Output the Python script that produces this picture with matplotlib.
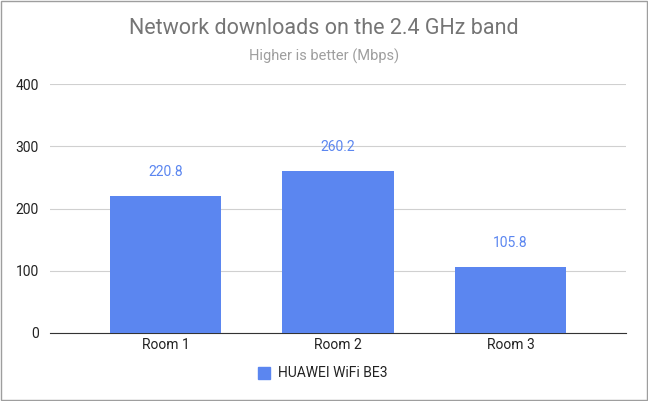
import matplotlib
matplotlib.use("Agg")
import matplotlib.pyplot as plt
from matplotlib.patches import Rectangle

plt.rcParams['font.family'] = ['Roboto', 'DejaVu Sans']

categories = ["Room 1", "Room 2", "Room 3"]
values = [220.8, 260.2, 105.8]
series_name = "HUAWEI WiFi BE3"
yticks = [0, 100, 200, 300, 400]

fig = plt.figure(figsize=(6.48, 4.01), dpi=100)
fig.patches.append(Rectangle((0.002, 0.002), 0.996, 0.996, transform=fig.transFigure,
                             fill=False, edgecolor="#9e9e9e", linewidth=1))
ax = fig.add_axes([50/648, 1-333/401, 576/648, 249/401])
x = list(range(len(categories)))
ax.bar(x, values, width=0.645, color="#5b86f0", zorder=3)
for xi, v in zip(x, values):
    ax.text(xi, v + 27, f"{v:.1f}", ha="center", va="bottom", color="#5b86f0", fontsize=10)
ax.set_xlim(-0.669, 2.669)
ax.set_ylim(0, 400)
ax.set_yticks(yticks)
ax.set_xticks(x)
ax.set_xticklabels(categories)
ax.grid(axis="y", color="#d0d0d0", linewidth=0.8, zorder=0)
for s in ["top", "right", "left"]:
    ax.spines[s].set_visible(False)
ax.spines["bottom"].set_color("#333333")
ax.tick_params(length=0, labelsize=10, colors="#222222")
ax.tick_params(axis="y", pad=8)
fig.text(0.5, 1-28/401, "Network downloads on the 2.4 GHz band", ha="center", va="center",
         fontsize=15.5, color="#757575")
fig.text(0.5, 1-56/401, "Higher is better (Mbps)", ha="center", va="center",
         fontsize=10.5, color="#9e9e9e")
fig.patches.append(Rectangle((258/648, 1-379/401), 12/648, 12/401, transform=fig.transFigure,
                             color="#5b86f0"))
fig.text(278/648, 1-373/401, series_name, ha="left", va="center", fontsize=10, color="#222222")
fig.savefig("out.png", dpi=100, facecolor="white")
